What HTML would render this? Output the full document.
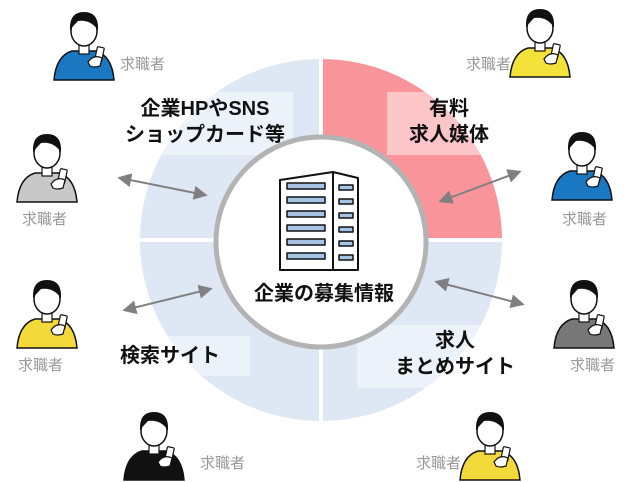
<!DOCTYPE html>
<html><head><meta charset="utf-8"><style>
html,body{margin:0;padding:0;background:#fff;width:636px;height:482px;overflow:hidden}
text{font-family:"Liberation Sans","Noto Sans CJK JP",sans-serif}
</style></head><body>
<svg width="636" height="482" viewBox="0 0 636 482" xmlns="http://www.w3.org/2000/svg">
<defs>
<marker id="ah" viewBox="0 0 10 10" refX="8" refY="5" markerWidth="7" markerHeight="7" orient="auto-start-reverse"><path d="M0 0 L10 5 L0 10 Z" fill="#808080"/></marker>
<g id="p">
 <path d="M2 74 Q4 50 20 45 L44 45 Q60 50 62 74 Z" stroke="#111" stroke-width="1.5"/>
 <rect x="27" y="36" width="10" height="12" fill="#fff" stroke="#111" stroke-width="1.2"/>
 <ellipse cx="32" cy="25" rx="13" ry="15" fill="#fff" stroke="#111" stroke-width="1.5"/>
 <path d="M18 24 Q17 6 32 6 Q47 6 46 24 Q38 13 26 15 Q22 19 18 24 Z" fill="#111"/>
 <rect x="44" y="41" width="7" height="14" rx="1" fill="#fff" stroke="#111" stroke-width="1.2" transform="rotate(12 47 48)"/>
 <path d="M36 56 Q42 48 50 52 L48 60 Q42 62 38 60 Z" fill="#fff" stroke="#111" stroke-width="1.2"/>
</g>
</defs>
<path d="M321 240 L321 59 A181 181 0 0 0 140 240 Z" fill="#dde8f4"/>
<path d="M321 240 L321 59 A181 181 0 0 1 502 240 Z" fill="#f9959a"/>
<path d="M321 240 L502 240 A181 181 0 0 1 321 421 Z" fill="#dde8f4"/>
<path d="M321 240 L321 421 A181 181 0 0 1 140 240 Z" fill="#dde8f4"/>
<line x1="321" y1="55" x2="321" y2="425" stroke="#fff" stroke-width="4"/>
<line x1="136" y1="240" x2="506" y2="240" stroke="#fff" stroke-width="4"/>
<rect x="387" y="92" width="113" height="63" fill="#fff" fill-opacity="0.45"/>
<rect x="118" y="92" width="175" height="63" fill="#fff" fill-opacity="0.45"/>
<rect x="110" y="336" width="140" height="40" fill="#fff" fill-opacity="0.45"/>
<rect x="357" y="325" width="160" height="63" fill="#fff" fill-opacity="0.45"/>
<circle cx="321" cy="242" r="105" fill="#fff" stroke="#b3b3b3" stroke-width="5"/>
<g stroke="#111" stroke-width="2" stroke-linejoin="round">
 <path d="M280 180 L333 172 L333 270 L280 270 Z" fill="#fff"/>
 <path d="M333 172 L358 178 L358 270 L333 270 Z" fill="#fff"/>
 <g fill="#a7c3e4" stroke-width="1.5">
  <rect x="287" y="183" width="38" height="6"/><rect x="287" y="197" width="38" height="6"/><rect x="287" y="211" width="38" height="6"/><rect x="287" y="225" width="38" height="6"/><rect x="287" y="239" width="38" height="6"/><rect x="287" y="253" width="38" height="6"/>
  <rect x="339" y="185" width="14" height="5"/><rect x="339" y="199" width="14" height="5"/><rect x="339" y="213" width="14" height="5"/><rect x="339" y="227" width="14" height="5"/><rect x="339" y="241" width="14" height="5"/><rect x="339" y="255" width="14" height="5"/>
 </g>
</g>
<text x="324" y="300" font-size="20" font-weight="bold" text-anchor="middle" fill="#111">企業の募集情報</text>
<g font-size="20" font-weight="bold" fill="#111" text-anchor="middle">
<text x="449" y="115">有料</text><text x="449" y="141">求人媒体</text>
<text x="205" y="115">企業HPやSNS</text><text x="205" y="141">ショップカード等</text>
<text x="170" y="362">検索サイト</text>
<text x="455" y="347">求人</text><text x="455" y="373">まとめサイト</text>
</g>
<g stroke="#808080" stroke-width="2" marker-start="url(#ah)" marker-end="url(#ah)">
<line x1="120" y1="178" x2="205" y2="195"/>
<line x1="125" y1="310" x2="210" y2="289"/>
<line x1="441" y1="201" x2="519" y2="172"/>
<line x1="437" y1="282" x2="522" y2="304"/>
</g>
<use href="#p" x="52" y="6" fill="#1a78c2"/>
<use href="#p" x="15" y="128" fill="#c8c8c8"/>
<use href="#p" x="15" y="274" fill="#f3d93a"/>
<use href="#p" x="122" y="406" fill="#111"/>
<use href="#p" x="508" y="3" fill="#f3e23a"/>
<use href="#p" x="550" y="126" fill="#1a78c2"/>
<use href="#p" x="552" y="274" fill="#777"/>
<use href="#p" x="458" y="406" fill="#f3d93a"/>
<g font-size="15" fill="#999">
<text x="120" y="69">求職者</text>
<text x="22" y="224">求職者</text>
<text x="18" y="370">求職者</text>
<text x="200" y="468">求職者</text>
<text x="466" y="69">求職者</text>
<text x="562" y="224">求職者</text>
<text x="570" y="370">求職者</text>
<text x="416" y="468">求職者</text>
</g>
</svg>
</body></html>
